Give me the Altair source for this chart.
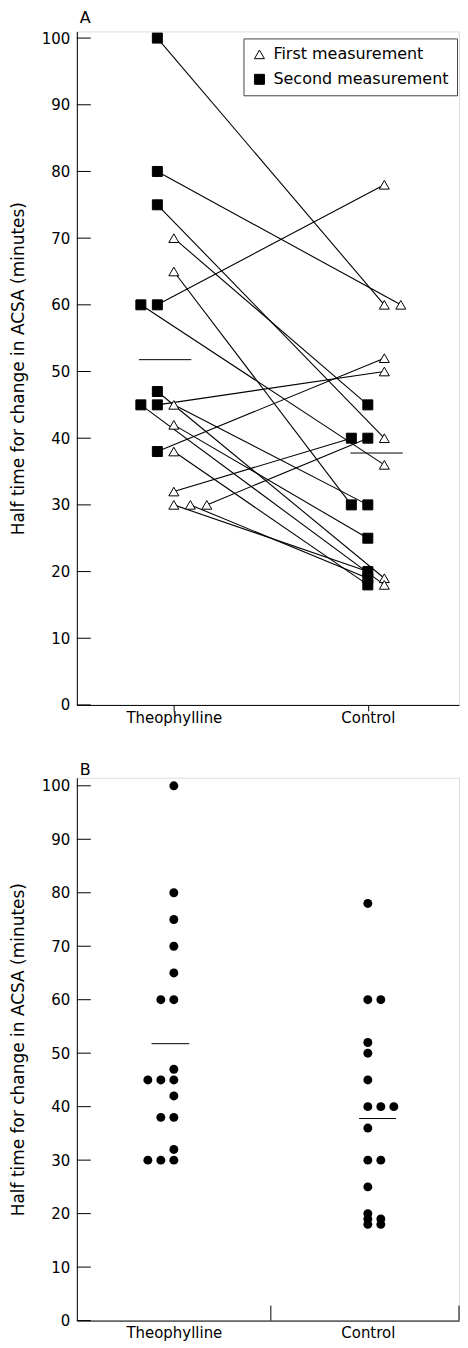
import altair as alt
import pandas as pd

# ---------------- data ----------------
groups = ["Theophylline", "Control"]
# one entry per subject: value on theophylline, value on control
theo_values = [100, 80, 75, 60, 60, 47, 45, 45, 38, 70, 45, 65, 42, 38, 30, 30, 30, 32]
control_values = [60, 60, 40, 78, 36, 19, 50, 18, 52, 45, 30, 30, 25, 18, 20, 19, 40, 40]
theo_first = [False] * 9 + [True] * 9
legend_labels = ["First measurement", "Second measurement"]
y_ticks = [0, 10, 20, 30, 40, 50, 60, 70, 80, 90, 100]
y_title = "Half time for change in ACSA (minutes)"
panel_labels = ["A", "B"]

# ---------------- style ----------------
FONT = "DejaVu Sans"
W = 383
HA = 675
HB = 544
XMAX = 2.47
D_A = 0.085
D_B = 0.067

# ---------------- tables ----------------
rows = []
for i, (t, c, tf) in enumerate(zip(theo_values, control_values, theo_first)):
    rows.append(dict(subject=i, group=groups[0], gi=1, value=t,
                     meas=legend_labels[0] if tf else legend_labels[1]))
    rows.append(dict(subject=i, group=groups[1], gi=2, value=c,
                     meas=legend_labels[1] if tf else legend_labels[0]))
a = pd.DataFrame(rows)
a["slot"] = a.groupby(["group", "meas", "value"]).cumcount()


def xpos(r):
    first = r.meas == legend_labels[0]
    if r.gi == 1:
        return 1 + r.slot * D_A if first else 1 - (r.slot + 1) * D_A
    return 2 + (r.slot + 1) * D_A if first else 2 - r.slot * D_A


a["x"] = a.apply(xpos, axis=1)

b = pd.DataFrame({
    "group": [groups[0]] * len(theo_values) + [groups[1]] * len(control_values),
    "gi": [1] * len(theo_values) + [2] * len(control_values),
    "value": theo_values + control_values,
})
b = b.sort_values(["gi", "value"]).reset_index(drop=True)
b["slot"] = b.groupby(["gi", "value"]).cumcount()
b["x"] = b.apply(lambda r: 1 - r.slot * D_B if r.gi == 1 else 2 + r.slot * D_B, axis=1)

ticks_df = pd.DataFrame({"v": y_ticks})
sep_df = pd.DataFrame({"s": [1.5]})

label_expr = f"datum.value == 1 ? '{groups[0]}' : '{groups[1]}'"


def Y(field, top):
    return alt.Y(field, type="quantitative",
                 scale=alt.Scale(domain=[0, top], nice=False, zero=True),
                 axis=alt.Axis(values=y_ticks, title=y_title, ticks=False, grid=False,
                               labelPadding=7, titlePadding=14, labelFontSize=15,
                               titleFontSize=17, titleFontWeight="normal",
                               labelFont=FONT, titleFont=FONT,
                               domainColor="black", labelColor="black", titleColor="black"))


def X(field, with_ticks):
    return alt.X(field, type="quantitative",
                 scale=alt.Scale(domain=[0.5, XMAX], nice=False, zero=False),
                 axis=alt.Axis(values=[1, 2], labelExpr=label_expr, ticks=with_ticks,
                               tickSize=6, tickColor="black", grid=False, title=None,
                               labelFontSize=15, labelFont=FONT,
                               labelPadding=0 if with_ticks else 5,
                               domainColor="black", labelColor="black"))


def title(t, off):
    return alt.TitleParams(t, anchor="start", frame="group", fontSize=16,
                           fontWeight="normal", font=FONT, offset=off, dx=3, color="black")


legend = alt.Legend(title=None, orient="none", legendX=167, legendY=7,
                    strokeColor="#444", padding=8, labelFontSize=16, labelLimit=0,
                    labelFont=FONT, labelColor="black", symbolSize=100,
                    symbolStrokeWidth=1, rowPadding=9, labelOffset=6)

# ---------------- panel A ----------------
lines = alt.Chart(a).mark_line(color="black", strokeWidth=1.1).encode(
    x=X("x", True), y=Y("value", 101), detail="subject:N"
)
points = alt.Chart(a).mark_point(size=100, strokeWidth=1, opacity=1).encode(
    x=X("x", True), y=Y("value", 101),
    shape=alt.Shape("meas:N", scale=alt.Scale(domain=legend_labels, range=["triangle-up", "square"]),
                    legend=legend),
    fill=alt.Fill("meas:N", scale=alt.Scale(domain=legend_labels, range=["white", "black"]),
                  legend=legend),
    stroke=alt.Stroke("meas:N", scale=alt.Scale(domain=legend_labels, range=["black", "black"]),
                      legend=legend),
)
mean_a = alt.Chart(a).transform_aggregate(
    mean="mean(value)", groupby=["gi"]
).transform_calculate(
    x1="datum.gi == 1 ? 0.82 : 1.91", x2="datum.gi == 1 ? 1.09 : 2.18"
).mark_rule(color="black", strokeWidth=1).encode(
    x=X("x1", True), x2="x2:Q", y=Y("mean", 101)
)
ticks_a = alt.Chart(ticks_df).mark_rule(color="black", strokeWidth=1).encode(
    y=Y("v", 101), x=alt.value(0), x2=alt.value(14)
)
panel_a = alt.layer(ticks_a, lines, mean_a, points).properties(
    width=W, height=HA, title=title(panel_labels[0], 5)
)

# ---------------- panel B ----------------
dots = alt.Chart(b).mark_circle(size=80, color="black", opacity=1).encode(
    x=X("x", False), y=Y("value", 101.5)
)
mean_b = alt.Chart(b).transform_aggregate(
    mean="mean(value)", groupby=["gi"]
).transform_calculate(
    x1="datum.gi == 1 ? 0.885 : 1.955", x2="datum.gi == 1 ? 1.08 : 2.145"
).mark_rule(color="black", strokeWidth=1).encode(
    x=X("x1", False), x2="x2:Q", y=Y("mean", 101.5)
)
ticks_b = alt.Chart(ticks_df).mark_rule(color="black", strokeWidth=1).encode(
    y=Y("v", 101.5), x=alt.value(0), x2=alt.value(14)
)
sep_b = alt.Chart(sep_df).mark_rule(color="black", strokeWidth=1).encode(
    x=X("s", False), y=alt.value(HB - 15), y2=alt.value(HB)
)
end_b = alt.Chart(sep_df).mark_rule(color="black", strokeWidth=1).encode(
    x=alt.value(W), y=alt.value(HB - 15), y2=alt.value(HB)
)
panel_b = alt.layer(ticks_b, sep_b, end_b, mean_b, dots).properties(
    width=W, height=HB, title=title(panel_labels[1], 0)
)

chart = alt.vconcat(panel_a, panel_b, spacing=34).properties(
    padding={"left": 0, "top": 0, "right": 0, "bottom": 0}
).configure_view(stroke=None).configure(font=FONT)

chart.save("out.html", embed_options={"renderer": "svg", "actions": False})
